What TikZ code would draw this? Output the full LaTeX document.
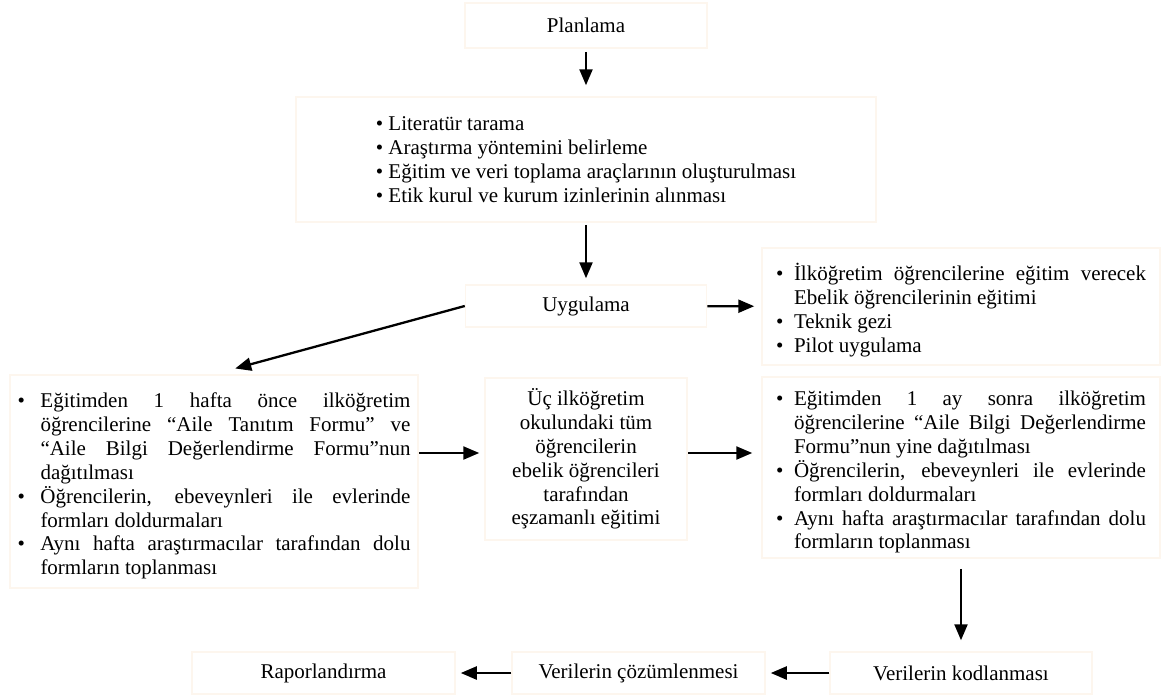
\documentclass[tikz,border=0pt]{standalone}
\usepackage{fontspec}
\setmainfont{Liberation Serif}
\usetikzlibrary{arrows.meta}

\definecolor{boxline}{RGB}{253,246,238}
% bullet item with hanging indent
\newcommand\bitem[2][18pt]{\par\noindent\hangindent=#1\hangafter=1\makebox[#1][l]{\textbullet}#2\par}

\begin{document}
\begin{tikzpicture}[x=1pt,y=-1pt,>={Triangle[length=16pt,width=13pt]},
    every node/.style={font=\fontsize{21}{23.9}\selectfont},
    box/.style={draw=boxline,line width=1.5pt,inner sep=0pt},
    flow/.style={->,line width=2.3pt}]

    \useasboundingbox (0,0) rectangle (1162,694);

    \node[box,minimum width=242pt,minimum height=45pt] (plan) at (586,25.5) {Planlama};

    \node[box,minimum width=580pt,minimum height=125pt,align=left] (lit) at (586,159.5)
        {\textbullet\ Literatür tarama\\
         \textbullet\ Araştırma yöntemini belirleme\\
         \textbullet\ Eğitim ve veri toplama araçlarının oluşturulması\\
         \textbullet\ Etik kurul ve kurum izinlerinin alınması};

    \node[box,minimum width=241pt,minimum height=42pt] (uyg) at (586,306) {Uygulama};

    \node[box,minimum width=398pt,minimum height=117pt,text width=370pt,align=justify] (pilot) at (961,306.5)
        {\bitem{İlköğretim öğrencilerine eğitim verecek\linebreak Ebelik öğrencilerinin eğitimi}
         \bitem{Teknik gezi}
         \bitem{Pilot uygulama}};

    \node[box,minimum width=408pt,minimum height=213pt,text width=393pt,align=justify] (left) at (214,481.5)
        {\bitem[23pt]{Eğitimden 1 hafta önce ilköğretim\linebreak öğrencilerine “Aile Tanıtım Formu” ve\linebreak “Aile Bilgi Değerlendirme Formu”nun\linebreak dağıtılması}
         \bitem[23pt]{Öğrencilerin, ebeveynleri ile evlerinde\linebreak formları doldurmaları}
         \bitem[23pt]{Aynı hafta araştırmacılar tarafından dolu\linebreak formların toplanması}};

    \node[box,minimum width=202pt,minimum height=162pt,align=center] (mid) at (586,459)
        {Üç ilköğretim\\ okulundaki tüm\\ öğrencilerin\\ ebelik öğrencileri\\ tarafından\\ eşzamanlı eğitimi};

    \node[box,minimum width=398pt,minimum height=181pt,text width=370pt,align=justify] (right) at (961,467.5)
        {\bitem{Eğitimden 1 ay sonra ilköğretim\linebreak öğrencilerine “Aile Bilgi Değerlendirme\linebreak Formu”nun yine dağıtılması}
         \bitem{Öğrencilerin, ebeveynleri ile evlerinde\linebreak formları doldurmaları}
         \bitem{Aynı hafta araştırmacılar tarafından dolu\linebreak formların toplanması}};

    \node[box,minimum width=262pt,minimum height=42pt] (kod) at (961,673) {Verilerin kodlanması};
    \node[box,minimum width=253pt,minimum height=42pt] (coz) at (638.5,673) {Verilerin çözümlenmesi};
    \node[box,minimum width=263pt,minimum height=42pt] (rap) at (323.5,673) {Raporlandırma};

    \coordinate (m1) at ([yshift=6pt]mid.west);
    \coordinate (m2) at ([yshift=6pt]mid.east);

    \path[flow] (plan) edge[shorten <=3pt,shorten >=11pt] (lit)
                (lit) edge[shorten <=2pt,shorten >=6pt] (uyg)
                (uyg) edge[shorten >=7pt] (pilot)
                (uyg.west) edge[shorten >=22pt] (left.north)
                (left.east |- m1) edge[shorten >=5pt] (m1)
                (m2) edge[shorten >=9pt] (right.west |- m2)
                (right) edge[shorten <=10pt,shorten >=11pt] (kod)
                (kod) edge[shorten >=5pt] (coz)
                (coz) edge[shorten >=5pt] (rap);
\end{tikzpicture}
\end{document}
